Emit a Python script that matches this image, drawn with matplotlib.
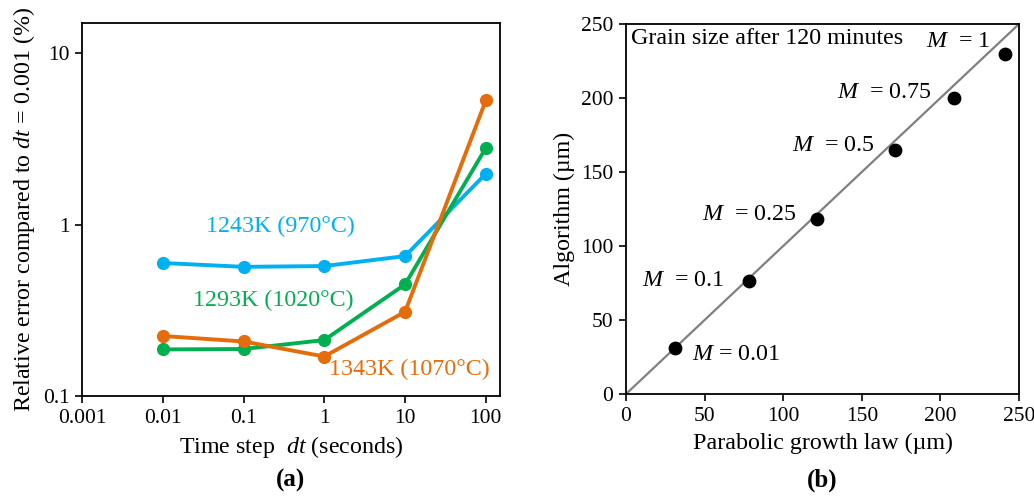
import matplotlib
matplotlib.use("Agg")
import matplotlib.pyplot as plt

plt.rcParams['font.family'] = ['Liberation Serif', 'DejaVu Serif']
plt.rcParams['mathtext.fontset'] = 'custom'
plt.rcParams['mathtext.rm'] = 'Liberation Serif'
plt.rcParams['mathtext.it'] = 'Liberation Serif:italic'

# Panel (a): relative error vs time step
dt = [0.01, 0.1, 1, 10, 100]
err_1243 = [0.597, 0.567, 0.573, 0.655, 1.98]
err_1293 = [0.187, 0.188, 0.212, 0.448, 2.80]
err_1343 = [0.224, 0.208, 0.170, 0.310, 5.30]
x_ticks_a = [0.001, 0.01, 0.1, 1, 10, 100]
x_ticklabels_a = ['0.001', '0.01', '0.1', '1', '10', '100']
y_ticks_a = [0.1, 1, 10]
y_ticklabels_a = ['0.1', '1', '10']

# Panel (b): algorithm vs parabolic growth law
parabolic = [31, 78.5, 121.5, 171, 208.7, 241]
algorithm = [31, 76.6, 118.2, 164.6, 200.2, 229.8]
m_labels = ['0.01', '0.1', '0.25', '0.5', '0.75', '1']

blue = '#00B0F0'
green = '#00B050'
orange = '#E46C0A'

LABEL = 17.3
TICK = 15.5

fig = plt.figure(figsize=(10.34, 4.97), dpi=100)
ax1 = fig.add_axes([0.0793, 0.2032, 0.4043, 0.7505])
ax2 = fig.add_axes([0.6054, 0.2072, 0.3801, 0.7445])

lw = 2.8
ms = 8.5
ax1.plot(dt, err_1243, '-o', color=blue, lw=lw, ms=ms)
ax1.plot(dt, err_1293, '-o', color=green, lw=lw, ms=ms)
ax1.plot(dt, err_1343, '-o', color=orange, lw=lw, ms=ms)
ax1.set_xscale('log')
ax1.set_yscale('log')
ax1.set_xlim(0.001, 150)
ax1.set_ylim(0.1, 15)
ax1.set_xticks(x_ticks_a)
ax1.set_xticklabels(x_ticklabels_a)
ax1.set_yticks(y_ticks_a)
ax1.set_yticklabels(y_ticklabels_a)
ax1.minorticks_off()
ax1.tick_params(labelsize=TICK, direction='out', length=5, width=1.2, pad=4)
ax1.set_xlabel(r'Time step  $\it{dt}$ (seconds)', fontsize=LABEL, labelpad=5)
ax1.set_ylabel(r'Relative error compared to $\it{dt}$ = 0.001 (%)', fontsize=LABEL, labelpad=4)
for s in ax1.spines.values():
    s.set_linewidth(1.3)

ax1.text(0.034, 0.98, '1243K (970°C)', color=blue, fontsize=LABEL, ha='left', va='center')
ax1.text(0.0234, 0.363, '1293K (1020°C)', color=green, fontsize=LABEL, ha='left', va='center')
ax1.text(1.15, 0.142, '1343K (1070°C)', color=orange, fontsize=LABEL, ha='left', va='center')

ax2.plot([0, 250], [0, 250], color='#808080', lw=1.6, zorder=1)
ax2.scatter(parabolic, algorithm, s=80, color='black', zorder=2)
ax2.set_xlim(0, 250)
ax2.set_ylim(0, 250)
ax2.set_xticks(range(0, 251, 50))
ax2.set_yticks(range(0, 251, 50))
ax2.tick_params(labelsize=TICK, direction='out', length=5, width=1.2, pad=4)
ax2.set_xlabel('Parabolic growth law (µm)', fontsize=LABEL, labelpad=5)
ax2.set_ylabel('Algorithm (µm)', fontsize=LABEL, labelpad=4)
for s in ax2.spines.values():
    s.set_linewidth(1.3)

ax2.text(3.2, 240, 'Grain size after 120 minutes', fontsize=LABEL, ha='left', va='center')
label_pos = [(41.8, 27, 'left'), (62.3, 77, 'right'), (108.8, 121, 'right'),
             (158.4, 168, 'right'), (194.7, 204, 'right'), (231.5, 238, 'right')]
for (lx, ly, ha), m in zip(label_pos, m_labels):
    gap = '' if m == '0.01' else ' '
    ax2.text(lx, ly, r'$\it{M}$' + gap + ' = ' + m, fontsize=LABEL, ha=ha, va='center')

fig.text(0.2805, 0.034, '(a)', fontsize=18, fontweight='bold', ha='center', va='center')
fig.text(0.795, 0.034, '(b)', fontsize=18, fontweight='bold', ha='center', va='center')

fig.savefig('out.png', dpi=100)
